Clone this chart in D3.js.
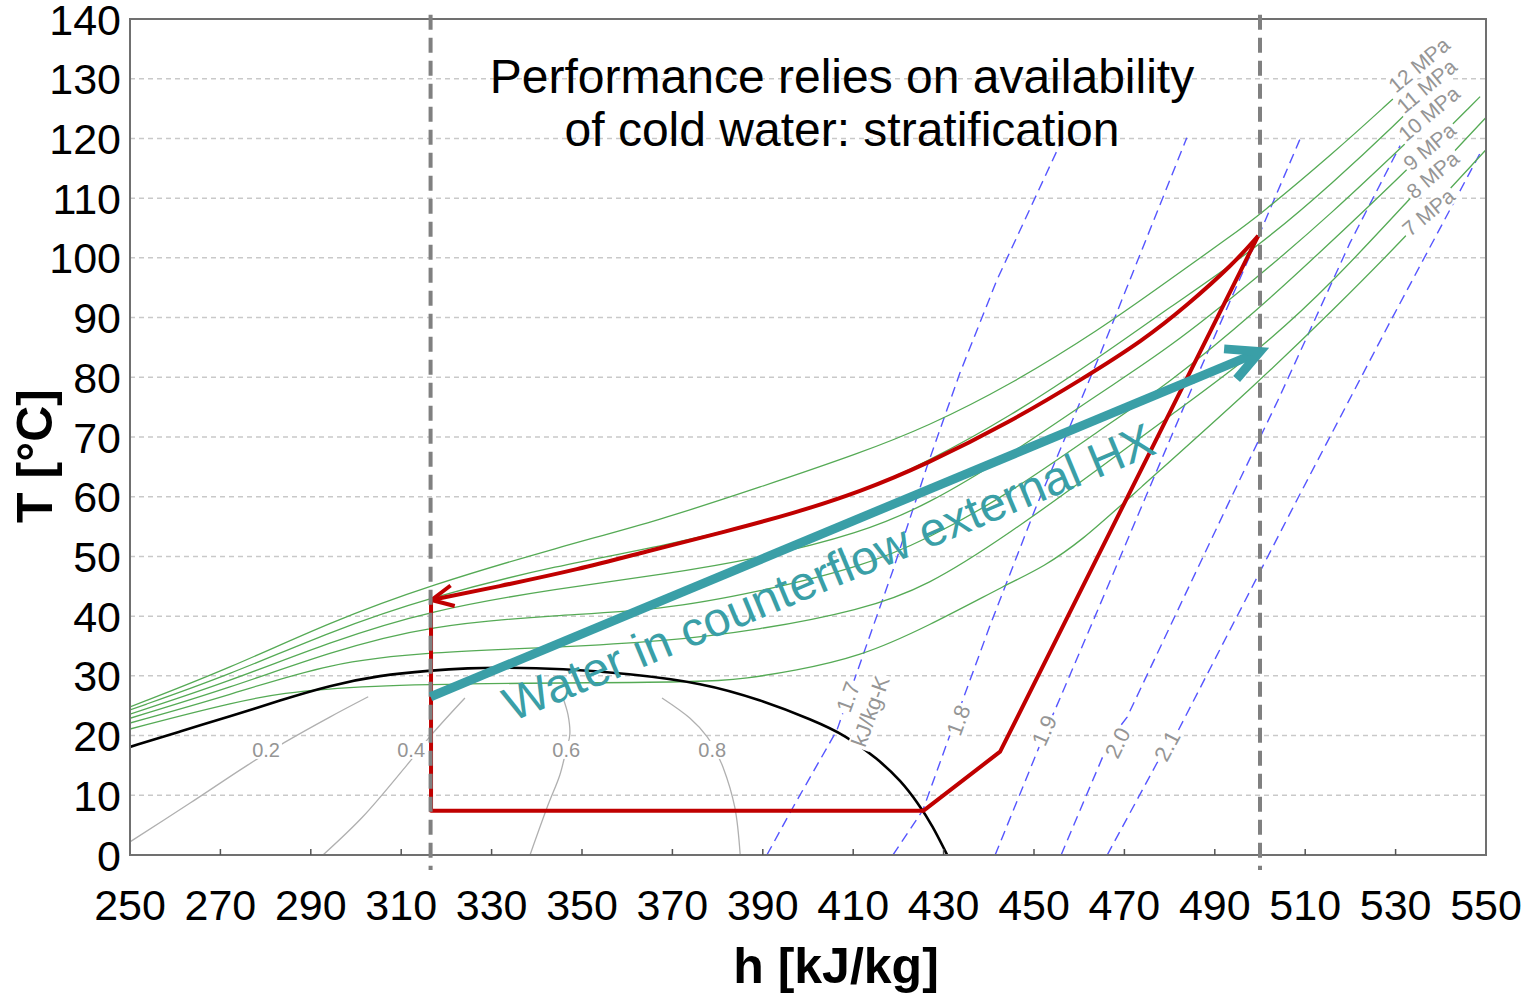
<!DOCTYPE html>
<html>
<head>
<meta charset="utf-8">
<script src="https://cdn.jsdelivr.net/npm/d3@7"></script>
<style>
  body { margin: 0; background: #fff; }
  svg { display: block; font-family: "Liberation Sans", Arial, sans-serif; }
</style>
</head>
<body>
<svg id="chart" width="1521" height="1000"></svg>
<script>
// CO2 temperature–enthalpy diagram with a transcritical heat-pump cycle.

// ---- axes ----
const hTicks = d3.range(250, 551, 20);
const tTicks = d3.range(0, 141, 10);

// ---- saturation dome [h kJ/kg, T °C] ----
const saturationDome = [[250,18.1],[261.1,20.7],[272.1,23.2],[283.2,25.9],[294.2,28.4],[305.3,30.1],
  [316.4,30.9],[325,31.3],[332,31.4],[345.8,31.2],[360.0,30.4],[376.8,28.8],[389.4,26.0],
  [401.1,22.6],[408.4,20.0],[415.3,16.2],[420.6,12.4],[424.4,8.6],[427.5,5.0],[430.8,0]];

// ---- isobars [h, T] ----
const isobarNames = ["12 MPa", "11 MPa", "10 MPa", "9 MPa", "8 MPa", "7 MPa"];
const isobar12 = [[250,24.8],[272.1,31.3],[294.2,39.0],[316.4,45.2],[345.1,51.6],[367.3,56.1],[389.4,61.6],
  [411.5,67.3],[426.3,71.7],[444.7,78.7],[464.6,88.0],[479.4,96.0],[494.0,103.9],[499.6,107.0],[516.2,117.5],[529.4,126.6]];
const isobar11 = [[250,24.3],[272.1,30.2],[294.2,37.4],[316.4,43.2],[345.1,48.6],[367.3,51.6],[389.4,55.6],
  [411.5,60.6],[426.3,65.8],[444.7,73.4],[464.6,83.4],[479.4,91.4],[499.6,101.8],[516.2,112.6],[531.0,123.1],[536.0,127.0]];
const isobar10 = [[250,23.6],[272.1,29.1],[294.2,35.7],[316.4,41.0],[345.1,44.7],[367.3,46.9],[389.4,49.7],
  [411.5,53.9],[426.3,58.6],[444.7,67.0],[464.6,77.4],[479.4,84.6],[499.6,96.8],[516.2,107.7],[531.4,118.6],[540.3,125.0]];
const isobar9 = [[250,22.9],[272.1,28.0],[294.2,34.0],[316.4,38.5],[345.1,40.2],[367.3,41.0],[389.4,44.1],
  [411.5,48.2],[426.3,52.8],[444.7,60.6],[464.6,71.2],[479.4,78.7],[499.6,91.3],[516.2,103.0],[532.1,114.4],[548.7,127.0]];
const isobar8 = [[250,22.1],[272.1,26.8],[294.2,32.2],[316.4,34.0],[345.1,34.8],[367.3,35.7],[389.4,37.7],
  [411.5,41.0],[426.3,44.9],[444.7,53.9],[464.6,64.8],[479.4,73.2],[499.6,84.3],[516.2,96.0],[532.5,109.4],[550,123.5]];
const isobar7 = [[250,21.1],[272.1,25.5],[294.2,28.8],[376.8,28.8],[386.5,29.6],[396.7,30.8],[411.5,33.2],
  [426.3,38.2],[444.7,45.6],[452.0,48.2],[460.8,52.8],[470.6,59.5],[499.6,79.1],[516.2,91.3],[531.6,103.0],[550,118.1]];
const isobarLabelAt = [[530.1,127.5],[531.9,124.0],[532.3,119.3],[533.4,114.4],[534.1,109.7],[533.2,103.4]];

// ---- isentropes [h, T], kJ/kg-K ----
const entropyNames = ["1.7", "1.8", "1.9", "2.0", "2.1"];
const entropy17 = [[390.9,0],[396.7,8.0],[406.4,20.9],[410.0,28.8],[418.8,47.7],[426.3,65.0],[433.6,80.7],[441.8,96.3],[456.9,120.9]];
const entropy18 = [[418.8,0],[425.4,7.5],[431.4,20.1],[440.3,38.5],[450.2,57.8],[464.6,83.8],[483.8,120.1]];
const entropy19 = [[441.4,0],[451.3,18.4],[462.4,38.0],[473.5,57.8],[483.8,76.2],[500.0,104.2],[508.8,119.8]];
const entropy20 = [[456.0,0],[466.8,19.3],[470.6,23.1],[493.4,59.5],[504.0,76.2],[519.9,102.5],[531.0,118.8]];
const entropy21 = [[466.2,0],[477.2,15.4],[481.6,20.4],[508.2,59.5],[528.8,89.3],[549.1,118.1]];
const entropyLabelAt = [[408.8,26.5],[433.2,22.6],[452.2,20.9],[468.4,18.8],[479.4,18.3]];
const entropyUnitAt = [413.7,24.1];

// ---- vapour quality lines [h, T] ----
const qualityNames = ["0.2", "0.4", "0.6", "0.8"];
const quality02 = [[250,2.2],[263.3,8.7],[276.1,15.1],[284.3,18.9],[294.2,23.1],[302.7,26.5]];
const quality04 = [[292.7,0],[301.5,6.4],[311.3,15.1],[317.0,20.4],[324.1,26.3]];
const quality06 = [[338.5,0],[342.5,8.4],[345.1,13.4],[346.5,17.6],[347.3,20.1],[346.9,23.5],[345.8,26.3]];
const quality08 = [[385.0,0],[383.8,8.0],[381.2,14.7],[379.6,17.3],[377.7,19.8],[373.9,22.9],[367.7,26.3]];
const qualityLabelAt = [[280.1,17.6],[312.2,17.6],[346.5,17.6],[378.8,17.6]];

// ---- cycle ----
const cycleLow = [[316.6,43.0],[316.6,7.4],[425.5,7.4],[442.5,17.3],[499.6,103.7]];
// gas cooler, from the cooled outlet up to the compressor discharge
const gasCooler = [[316.7,42.7],[331.1,44.9],[349.6,47.9],[363.6,50.7],[382.0,54.2],[396.7,57.2],[411.5,60.8],
  [426.3,65.5],[444.7,72.5],[460.9,79.8],[474.2,86.2],[483.8,92.0],[494.0,98.9],[499.6,103.7]];
const storageLimits = [316.5, 500];
const waterPath = [[316.5,26.5],[500,84.3]];

// ---- drawing ----
const svg = d3.select("#chart");
const x = d3.scaleLinear().domain([250, 550]).range([130, 1486]);
const y = d3.scaleLinear().domain([0, 140]).range([855, 19]);
const teal = "#3a9fa7", red = "#c00000", labelGrey = "#959595";

svg.append("defs").append("clipPath").attr("id", "plotArea")
  .append("rect").attr("x", 130).attr("y", 19).attr("width", 1356).attr("height", 836);

// horizontal grid
svg.append("g").selectAll("line").data(tTicks.filter(t => t > 0 && t < 140)).join("line")
  .attr("x1", x(250)).attr("x2", x(550))
  .attr("y1", d => y(d)).attr("y2", d => y(d))
  .attr("stroke", "#c9c9c9").attr("stroke-width", 1.5).attr("stroke-dasharray", "5,4");

const plot = svg.append("g").attr("clip-path", "url(#plotArea)");
const lineOf = curve => d3.line().x(d => x(d[0])).y(d => y(d[1])).curve(curve);

// quality lines
plot.append("g").selectAll("path").data([quality02, quality04, quality06, quality08]).join("path")
  .attr("d", lineOf(d3.curveCatmullRom)).attr("fill", "none")
  .attr("stroke", "#b0b0b0").attr("stroke-width", 1.3);

// isentropes
plot.append("g").selectAll("path").data([entropy17, entropy18, entropy19, entropy20, entropy21]).join("path")
  .attr("d", lineOf(d3.curveLinear)).attr("fill", "none")
  .attr("stroke", "#5555ff").attr("stroke-width", 1.4).attr("stroke-dasharray", "10,6");

// isobars
plot.append("g").selectAll("path").data([isobar12, isobar11, isobar10, isobar9, isobar8, isobar7]).join("path")
  .attr("d", lineOf(d3.curveBasis)).attr("fill", "none")
  .attr("stroke", "#55aa55").attr("stroke-width", 1.3);

// labels sitting on white patches that interrupt the lines
function patchLabel(parent, px, py, angle, str, size, anchor, dy, descender) {
  const g = parent.append("g").attr("transform", `translate(${px},${py}) rotate(${angle})`);
  const rect = g.append("rect").attr("fill", "#fff");
  const t = g.append("text").attr("font-size", size).attr("fill", labelGrey)
    .attr("text-anchor", anchor).attr("dy", dy).text(str);
  const bb = t.node().getBBox();
  rect.attr("x", bb.x - 2).attr("width", bb.width + 4)
    .attr("y", dy - 0.8 * size).attr("height", (descender ? 1.05 : 0.9) * size);
}
const labels = svg.append("g");
isobarNames.forEach((n, i) =>
  patchLabel(labels, x(isobarLabelAt[i][0]), y(isobarLabelAt[i][1]), -40, n, 21, "start", 0, false));
const entropyAngles = [-70, -70, -66, -64, -62];
entropyNames.forEach((n, i) =>
  patchLabel(labels, x(entropyLabelAt[i][0]), y(entropyLabelAt[i][1]), entropyAngles[i], n, 22, "middle", 8, false));
patchLabel(labels, x(entropyUnitAt[0]), y(entropyUnitAt[1]), -70, "kJ/kg-K", 22, "middle", 8, true);
qualityNames.forEach((n, i) =>
  patchLabel(labels, x(qualityLabelAt[i][0]), y(qualityLabelAt[i][1]), 0, n, 20, "middle", 7, false));

// saturation dome
plot.append("path").datum(saturationDome)
  .attr("d", lineOf(d3.curveBasis)).attr("fill", "none")
  .attr("stroke", "#000").attr("stroke-width", 2.6);

// frame and ticks
svg.append("rect").attr("x", 130).attr("y", 19).attr("width", 1356).attr("height", 836)
  .attr("fill", "none").attr("stroke", "#707070").attr("stroke-width", 2);
svg.append("g").selectAll("line").data(hTicks.filter(h => h > 250 && h < 550)).join("line")
  .attr("x1", d => x(d)).attr("x2", d => x(d)).attr("y1", 855).attr("y2", 849)
  .attr("stroke", "#555").attr("stroke-width", 1.5);

svg.append("g").selectAll("text").data(hTicks).join("text")
  .attr("x", d => x(d)).attr("y", 920).attr("text-anchor", "middle")
  .attr("font-size", 43).attr("fill", "#000").text(d => d);
svg.append("g").selectAll("text").data(tTicks).join("text")
  .attr("x", 121).attr("y", d => y(d) + 15.5).attr("text-anchor", "end")
  .attr("font-size", 43).attr("fill", "#000").text(d => d);

svg.append("text").attr("x", 836).attr("y", 983).attr("text-anchor", "middle")
  .attr("font-size", 50).attr("font-weight", "bold").text("h [kJ/kg]");
svg.append("text").attr("transform", "translate(52,456) rotate(-90)").attr("text-anchor", "middle")
  .attr("font-size", 50).attr("font-weight", "bold").text("T [°C]");

// refrigerant cycle
const cycle = svg.append("g").attr("fill", "none").attr("stroke", red).attr("stroke-width", 4)
  .attr("stroke-linejoin", "round");
cycle.append("path").datum(cycleLow).attr("d", lineOf(d3.curveLinear));
cycle.append("path").datum(gasCooler).attr("d", lineOf(d3.curveBasis));

function arrowHead(parent, from, tip, len, spread) {
  const fx = x(from[0]), fy = y(from[1]), tx = x(tip[0]), ty = y(tip[1]);
  const a = Math.atan2(fy - ty, fx - tx);
  const p1 = [tx + len * Math.cos(a + spread), ty + len * Math.sin(a + spread)];
  const p2 = [tx + len * Math.cos(a - spread), ty + len * Math.sin(a - spread)];
  parent.append("path").attr("d", `M${p1[0]},${p1[1]}L${tx},${ty}L${p2[0]},${p2[1]}`);
}
arrowHead(cycle, gasCooler[1], gasCooler[0], 24, 0.45);

// storage temperature limits
svg.append("g").selectAll("line").data(storageLimits).join("line")
  .attr("x1", d => x(d)).attr("x2", d => x(d)).attr("y1", y(140.7)).attr("y2", y(-2.5))
  .attr("stroke", "#808080").attr("stroke-width", 4).attr("stroke-dasharray", "15,8");

// water stream in the external heat exchanger
const water = svg.append("g").attr("fill", "none").attr("stroke", teal).attr("stroke-width", 9)
  .attr("stroke-linejoin", "miter");
water.append("path").datum(waterPath).attr("d", lineOf(d3.curveLinear));
arrowHead(water, waterPath[0], waterPath[1], 36, 0.47);

svg.append("text").attr("transform", "translate(512,722) rotate(-22.6)")
  .attr("font-size", 48).attr("fill", teal).text("Water in counterflow external HX");

svg.append("text").attr("x", 842).attr("y", 93).attr("text-anchor", "middle")
  .attr("font-size", 48).attr("fill", "#000").text("Performance relies on availability");
svg.append("text").attr("x", 842).attr("y", 146).attr("text-anchor", "middle")
  .attr("font-size", 48).attr("fill", "#000").text("of cold water: stratification");
</script>
</body>
</html>
